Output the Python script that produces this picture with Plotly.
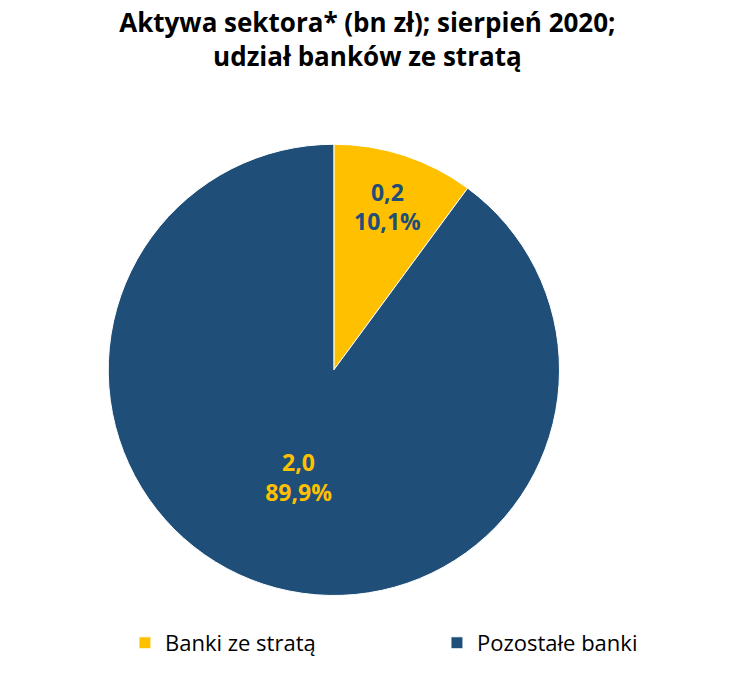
import plotly.graph_objects as pgo

labels = ["Banki ze stratą", "Pozostałe banki"]
values_bn = ["0,2", "2,0"]
shares = [10.1, 89.9]
share_labels = ["10,1%", "89,9%"]

colors = ["#FFC000", "#1F4E79"]
text_colors = ["#1F4E79", "#FFC000"]

fig = pgo.Figure(
    pgo.Pie(
        labels=labels,
        values=shares,
        text=[f"{v}<br>{s}" for v, s in zip(values_bn, share_labels)],
        textinfo="text",
        textposition="inside",
        insidetextorientation="horizontal",
        textfont=dict(size=23, color=text_colors, family="Open Sans", weight="bold"),
        marker=dict(colors=colors, line=dict(color="white", width=1)),
        sort=False,
        direction="clockwise",
        rotation=0,
        domain=dict(x=[0.1457, 0.8016], y=[0.118, 0.827]),
        hoverinfo="label+percent",
    )
)

fig.update_layout(
    width=741,
    height=686,
    paper_bgcolor="white",
    margin=dict(t=0, r=0, b=0, l=0),
    font=dict(family="Open Sans", size=22, color="#000000"),
    title=dict(
        text="<b>Aktywa sektora* (bn zł); sierpień 2020;<br>udział banków ze stratą</b>",
        x=0.485,
        xanchor="center",
        y=0.965,
        yanchor="top",
        font=dict(size=26),
    ),
    legend=dict(
        orientation="h",
        x=0.17,
        xanchor="left",
        y=0.105,
        yanchor="top",
        font=dict(size=22),
        itemwidth=30,
        entrywidth=267,
    ),
)

fig.write_html("out.html")
